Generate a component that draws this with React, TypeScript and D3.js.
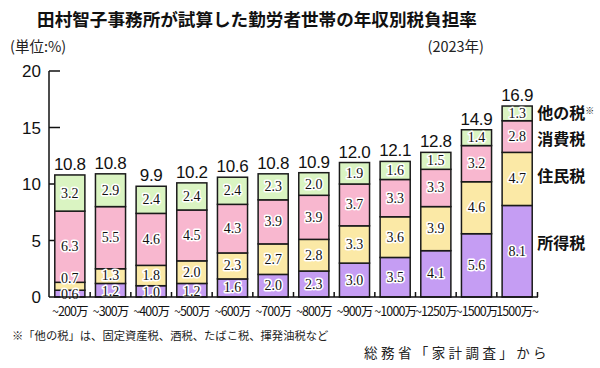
import React from 'react';
import { scaleBand, scaleLinear, stack } from 'd3';

const categories = ['~200万', '~300万', '~400万', '~500万', '~600万', '~700万', '~800万', '~900万', '~1000万', '~1250万', '~1500万', '1500万~'];
const incomeTax = [0.6, 1.2, 1.0, 1.2, 1.6, 2.0, 2.3, 3.0, 3.5, 4.1, 5.6, 8.1];
const residentTax = [0.7, 1.3, 1.8, 2.0, 2.3, 2.7, 2.8, 3.3, 3.6, 3.9, 4.6, 4.7];
const consumptionTax = [6.3, 5.5, 4.6, 4.5, 4.3, 3.9, 3.9, 3.7, 3.3, 3.3, 3.2, 2.8];
const otherTax = [3.2, 2.9, 2.4, 2.4, 2.4, 2.3, 2.0, 1.9, 1.6, 1.5, 1.4, 1.3];
const totals = ['10.8', '10.8', '9.9', '10.2', '10.6', '10.8', '10.9', '12.0', '12.1', '12.8', '14.9', '16.9'];
const seriesKeys = ['income', 'resident', 'consumption', 'other'];
const seriesNames = ['所得税', '住民税', '消費税', '他の税'];
const yTicks = [0, 5, 10, 15, 20];

const colors = ['#c59df3', '#fbe9a6', '#f8b7cf', '#daf4c2'];
const sansJP = '"Noto Sans CJK JP", sans-serif';

const rows = categories.map((c, i) => ({
  cat: c,
  income: incomeTax[i],
  resident: residentTax[i],
  consumption: consumptionTax[i],
  other: otherTax[i],
}));

const App = () => {
  const x = scaleBand<string>().domain(categories).range([49.5, 537.5]).paddingInner(0.26).paddingOuter(0.13);
  const y = scaleLinear().domain([0, 20]).range([297, 71]);
  const layers = stack<any>().keys(seriesKeys)(rows);
  const step = x.step();
  const gap = step * 0.26;

  const last = categories[categories.length - 1];
  const legendX = (x(last) as number) + x.bandwidth() + 5;

  return (
    <svg width={600} height={368} style={{ position: 'absolute', left: 0, top: 0, background: '#fff' }}>
      <text x={257} y={26} textAnchor="middle" fontFamily={sansJP} fontWeight={700} fontSize={17.6} fill="#111">
        田村智子事務所が試算した勤労者世帯の年収別税負担率
      </text>
      <text x={10} y={52} fontFamily={sansJP} fontSize={14.5} fill="#222">(単位:%)</text>
      <text x={484} y={52} textAnchor="end" fontFamily={sansJP} fontSize={14.5} fill="#222">(2023年)</text>

      {/* y axis */}
      <line x1={49} x2={49} y1={y(20)} y2={y(0)} stroke="#111" strokeWidth={1.5} />
      {yTicks.map(t => (
        <g key={t}>
          {t > 0 && <line x1={49} x2={60} y1={y(t)} y2={y(t)} stroke="#111" strokeWidth={1.5} />}
          <text x={41} y={y(t) + 6} textAnchor="end" fontFamily="Liberation Sans, Arial, sans-serif" fontSize={17} fill="#111">{t}</text>
        </g>
      ))}

      {/* bars */}
      {layers.map((layer, li) => (
        <g key={layer.key}>
          {layer.map((d, i) => (
            <rect key={i} x={x(categories[i])} y={y(d[1])} width={x.bandwidth()} height={y(d[0]) - y(d[1])}
              fill={colors[li]} stroke="#1a1a1a" strokeWidth={1.5} />
          ))}
        </g>
      ))}

      {/* segment labels */}
      {layers.map((layer, li) => (
        <g key={'l' + layer.key}>
          {layer.map((d, i) => {
            const v = d[1] - d[0];
            let cy = (y(d[0]) + y(d[1])) / 2;
            if (v < 1 && li === 0) cy = y(0) - 3;
            if (v < 1 && li === 1) cy = y(d[1]) - 4;
            if (li === 0 && v >= 1 && v < 1.5) cy += 1;
            if (li === 1 && v >= 1 && v < 1.5) cy -= 1;
            return (
              <text key={i} x={(x(categories[i]) as number) + x.bandwidth() / 2} y={cy + 4.5} textAnchor="middle"
                fontFamily="Liberation Serif, 'DejaVu Serif', serif" fontSize={14} fill="#111"
                stroke="#fff" strokeWidth={3} strokeLinejoin="round" paintOrder="stroke">
                {v.toFixed(1)}
              </text>
            );
          })}
        </g>
      ))}

      {/* totals */}
      {totals.map((t, i) => (
        <text key={i} x={(x(categories[i]) as number) + x.bandwidth() / 2} y={y(layers[3][i][1]) - 5} textAnchor="middle"
          fontFamily="Liberation Sans, Arial, sans-serif" fontSize={17} letterSpacing={-0.3} fill="#111">{t}</text>
      ))}

      {/* x axis */}
      <line x1={49} x2={538} y1={y(0)} y2={y(0)} stroke="#111" strokeWidth={1.5} />
      {categories.map((c, i) => (
        <line key={c} x1={(x(c) as number) + x.bandwidth() + gap / 2} x2={(x(c) as number) + x.bandwidth() + gap / 2}
          y1={y(0)} y2={y(0) - 5} stroke="#111" strokeWidth={1.5} />
      ))}
      {categories.map(c => (
        <text key={c} x={(x(c) as number) + x.bandwidth() / 2} y={316} textAnchor="middle"
          fontFamily={sansJP} fontSize={12.5} letterSpacing={-0.9} fill="#111">{c}</text>
      ))}

      {/* legend */}
      {layers.map((layer, li) => {
        const d = layer[layer.length - 1];
        let cy = (y(d[0]) + y(d[1])) / 2;
        if (li === 0) cy -= 8;
        if (li === 1) cy -= 3;
        if (li === 2) cy += 2;
        return (
          <text key={li} x={legendX} y={cy + 6} fontFamily={sansJP} fontWeight={700} fontSize={16} fill="#111">
            {seriesNames[li]}
            {li === 3 && <tspan fontSize={9} dy={-5} fontWeight={400}>※</tspan>}
          </text>
        );
      })}

      {/* notes */}
      <text x={12} y={340} fontFamily={sansJP} fontSize={11.3} fill="#222">※「他の税」は、固定資産税、酒税、たばこ税、揮発油税など</text>
      <text x={550} y={358} textAnchor="end" fontFamily={sansJP} fontSize={13.5} letterSpacing={3.4} fill="#222">総務省「家計調査」から</text>
    </svg>
  );
};

export default App;
